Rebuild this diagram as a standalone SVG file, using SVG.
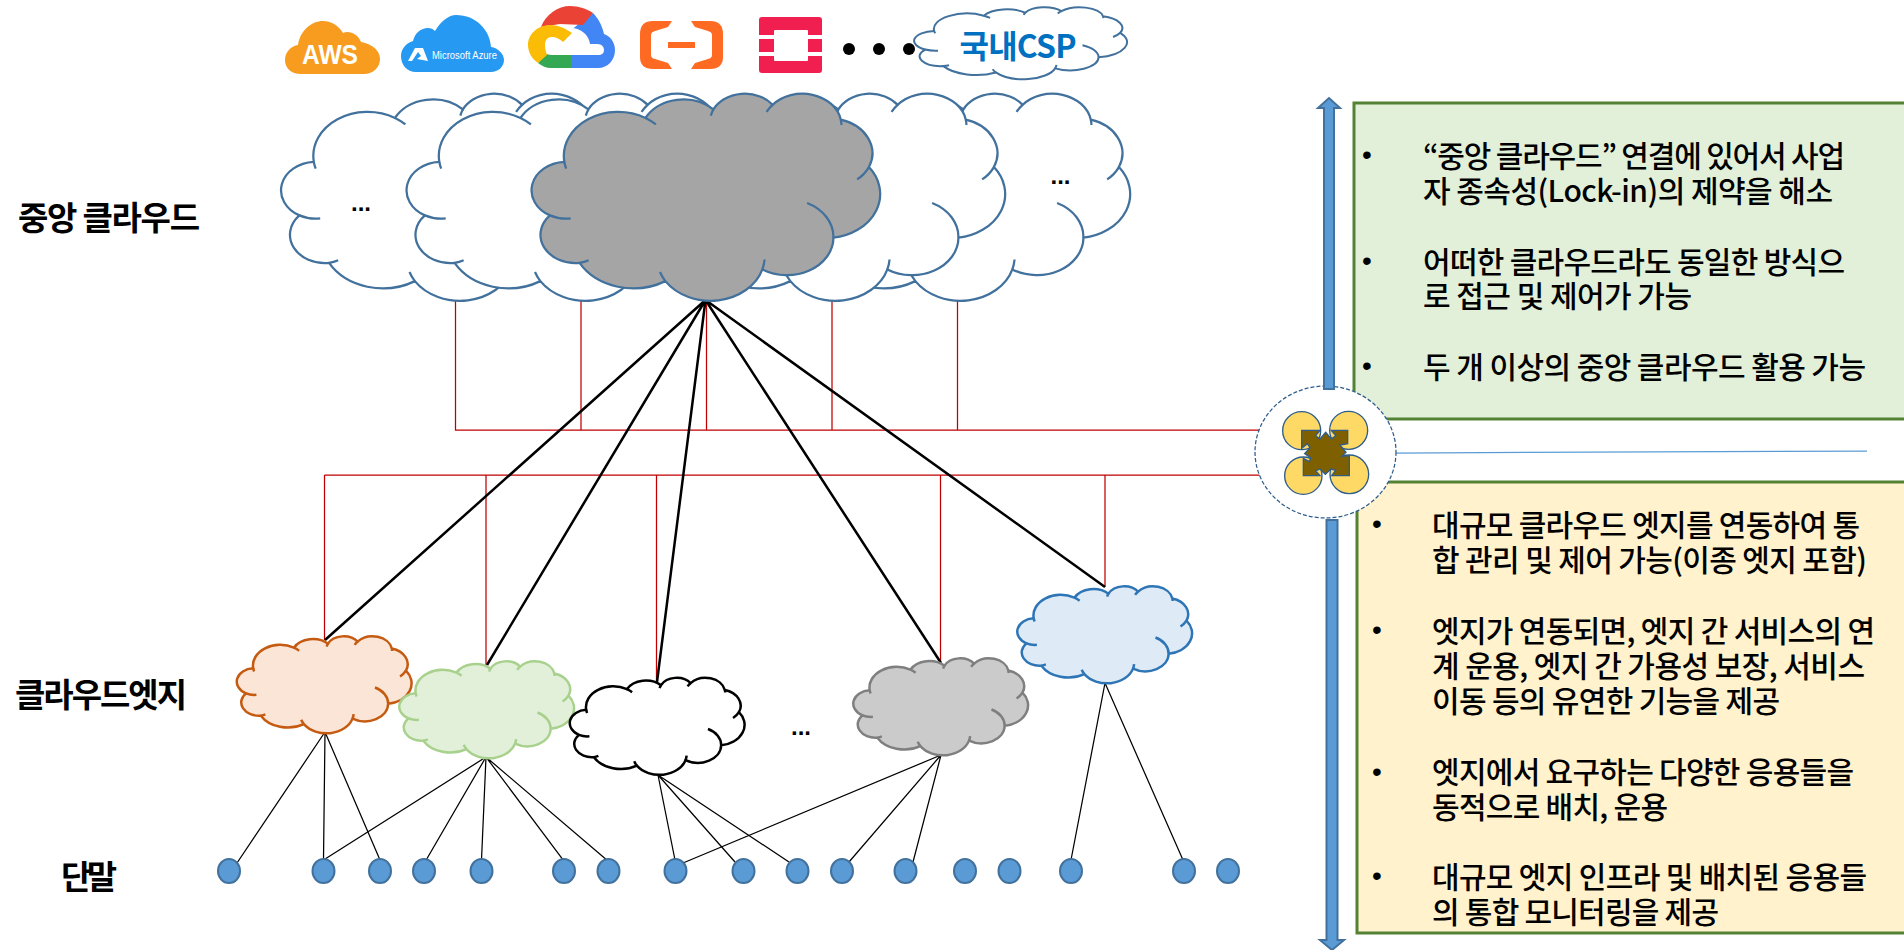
<svg xmlns="http://www.w3.org/2000/svg" xmlns:xlink="http://www.w3.org/1999/xlink" width="1904" height="950" viewBox="0 0 1904 950">
<style>
.cs{vector-effect:non-scaling-stroke;stroke-linejoin:round}
.cm{vector-effect:non-scaling-stroke;fill:none}
.top{fill:#fff;stroke:#41719C;stroke-width:2.25}
.topg{fill:#A5A5A5;stroke:#41719C;stroke-width:2.25}
.red{stroke:#C00000;stroke-width:1.25;fill:none}
.blk{stroke:#000;stroke-width:2.5;fill:none}
.thin{stroke:#000;stroke-width:1.25;fill:none}
.term{fill:#5B9BD5;stroke:#41719C;stroke-width:2}
.t{font-family:"Noto Sans CJK KR","Noto Sans",sans-serif;fill:#000}
.body{font-size:30px;font-weight:500}
.lab{font-size:33px;font-weight:700}
.dots{font-family:"Liberation Sans",sans-serif;font-size:24px;font-weight:700;fill:#000;text-anchor:middle}
.bul{font-family:"Liberation Sans",sans-serif;font-size:28px;fill:#000;text-anchor:middle}
</style>
<defs>
<g id="cloud">
<path class="cs" d="M3900 14370A6753 9190 0 0 1 14005 5202A5333 7267 0 0 1 22457 3432A4365 5945 0 0 1 29834 2482A4857 6595 0 0 1 38319 5577A5333 7273 0 0 1 41819 15462A6775 9220 0 0 1 37404 30204A5785 7867 0 0 1 28555 36814A6752 9215 0 0 1 16478 39262A7720 10543 0 0 1 5800 35465A4360 5918 0 0 1 2108 25543A4345 5945 0 0 1 3900 14370Z"/>
<path class="cm" d="M4693 26177A4345 5945 0 0 1 2108 25543M6928 34899A4360 5918 0 0 1 5800 35465M16478 39262A6752 9215 0 0 1 15811 37348M28827 34751A6752 9215 0 0 1 28555 36814M34129 22954A5785 7867 0 0 1 37404 30204M41819 15462A5333 7273 0 0 1 40353 18033M38319 5577A4857 6595 0 0 1 38400 6690M29078 3952A4857 6595 0 0 1 29834 2482M22141 4720A4365 5945 0 0 1 22457 3432M14005 5202A6753 9190 0 0 1 15300 6543M4127 15789A6753 9190 0 0 1 3900 14370"/>
</g>
</defs>
<rect width="1904" height="950" fill="#fff"/>

<g id="panel-central">
<rect x="1354" y="103" width="560" height="316" fill="#E2F0D9" stroke="#548235" stroke-width="3"/>
<text class="bul" x="1367" y="164">•</text>
<text class="t body" x="1423" y="167" textLength="422" lengthAdjust="spacing">“중앙 클라우드” 연결에 있어서 사업</text>
<text class="t body" x="1423" y="202" textLength="410" lengthAdjust="spacing">자 종속성(Lock-in)의 제약을 해소</text>
<text class="bul" x="1367" y="270">•</text>
<text class="t body" x="1423" y="273" textLength="422" lengthAdjust="spacing">어떠한 클라우드라도 동일한 방식으</text>
<text class="t body" x="1423" y="307" textLength="269" lengthAdjust="spacing">로 접근 및 제어가 가능</text>
<text class="bul" x="1367" y="375">•</text>
<text class="t body" x="1423" y="378" textLength="443" lengthAdjust="spacing">두 개 이상의 중앙 클라우드 활용 가능</text>
</g>
<g id="panel-edge">
<rect x="1357" y="482" width="560" height="451" fill="#FFF2CC" stroke="#548235" stroke-width="3"/>
<text class="bul" x="1377" y="533">•</text>
<text class="t body" x="1432" y="536" textLength="428" lengthAdjust="spacing">대규모 클라우드 엣지를 연동하여 통</text>
<text class="t body" x="1432" y="571" textLength="435" lengthAdjust="spacing">합 관리 및 제어 가능(이종 엣지 포함)</text>
<text class="bul" x="1377" y="639">•</text>
<text class="t body" x="1432" y="642" textLength="443" lengthAdjust="spacing">엣지가 연동되면, 엣지 간 서비스의 연</text>
<text class="t body" x="1432" y="677" textLength="433" lengthAdjust="spacing">계 운용, 엣지 간 가용성 보장, 서비스</text>
<text class="t body" x="1432" y="712" textLength="348" lengthAdjust="spacing">이동 등의 유연한 기능을 제공</text>
<text class="bul" x="1377" y="781">•</text>
<text class="t body" x="1432" y="783" textLength="422" lengthAdjust="spacing">엣지에서 요구하는 다양한 응용들을</text>
<text class="t body" x="1432" y="818" textLength="236" lengthAdjust="spacing">동적으로 배치, 운용</text>
<text class="bul" x="1377" y="885">•</text>
<text class="t body" x="1432" y="888" textLength="435" lengthAdjust="spacing">대규모 엣지 인프라 및 배치된 응용들</text>
<text class="t body" x="1432" y="923" textLength="287" lengthAdjust="spacing">의 통합 모니터링을 제공</text>
</g>

<g id="connectors">
<path class="red" d="M455.5 300V430H1262M581 300V430M706.500 300V430M832 300V430M957.500 300V430"/>
<path class="red" d="M324.500 475H1262M324.500 475V640M486 475V666M656.500 475V683M940.500 475V664M1105 475V587"/>
<path class="blk" d="M705.500 300L325 640M705.500 300L487 665M705.500 300L657 682M705.500 300L941 663M705.500 300L1105 587"/>
<path class="thin" d="M325 732L237 863M325 732L323.500 860M325 732L380 860"/>
<path class="thin" d="M486 757L323.500 860M486 757L425 862M486 757L481.500 860M486 757L564 861M486 757L608 861"/>
<path class="thin" d="M658 775L675 860M658 775L735 862M658 775L789 862"/>
<path class="thin" d="M941 755L683 863M941 755L849 862M941 755L913 862"/>
<path class="thin" d="M1105 683L1071 860M1105 683L1183 860"/>
<path d="M1395 453L1867 451" stroke="#5B9BD5" stroke-width="1.25" fill="none"/>
</g>

<g id="logo-aws">
<path fill="#F89C20" d="M301 74C291 74 285 68 285 60C285 52 291 46 298 45C300 31 311 21 323 21C332 21 339 26 343 33C349 30 358 34 361 42C373 44 380 51 380 59C380 68 372 74 364 74Z"/>
<text x="302" y="64" font-family="Liberation Sans,sans-serif" font-size="27" font-weight="700" fill="#fff" textLength="56" lengthAdjust="spacingAndGlyphs">AWS</text>
</g>
<g id="logo-azure">
<path fill="#2699F2" d="M416 72C407 72 401 65 401 56C401 49 406 43 413 41C415 33 421 28 428 28C431 28 433 29 435 31C441 21 449 15 456 15C476 15 490 30 491 47C498 48 504 54 504 60C504 67 498 72 491 72Z"/>
<path fill="#fff" d="M415 48L423 48L428 61L417 59L421 56L418 52L412 61L408 61Z"/>
<text x="432" y="59" font-family="Liberation Sans,sans-serif" font-size="11" fill="#fff" textLength="65" lengthAdjust="spacingAndGlyphs">Microsoft Azure</text>
</g>
<g id="logo-google">
<path fill="#4285F4" d="M571 68L598 68C608 68 615 60 615 50C615 42 610 36 604 34C602 25 598 18 593 13L571 30Z"/>
<path fill="#EA4335" d="M541 27C546 14 558 6 570 6C579 6 587 9 593 13L583 25L560 24Z"/>
<path fill="#34A853" d="M571 68L551 68C546 68 542 66 538 63L547 53L571 53Z"/>
<path fill="#fff" d="M571 28C581 28 589 35 590 44L597 44C602 44 604 47 604 50C604 53 602 55 598 55L552 55C545 55 541 51 541 47L563 42Z"/>
<path fill="#FBBC05" d="M538 63C532 59 528 52 528 45C528 34 538 25 550 25C558 25 565 28 572 33L563 42C560 39 556 37 552 37C546 37 545 42 545 45C545 49 546 52 547 55Z"/>
</g>
<g id="logo-alibaba" fill="#FF6A22">
<path d="M672 21L653 21Q640 21 640 34L640 57Q640 69 653 69L672 69L668 63L655 59Q651 58 651 55L651 35Q651 32 655 31L668 27Z"/>
<path d="M691 21L710 21Q723 21 723 34L723 57Q723 69 710 69L691 69L695 63L708 59Q712 58 712 55L712 35Q712 32 708 31L695 27Z"/>
<rect x="668" y="42" width="27" height="6"/>
</g>
<g id="logo-openstack">
<rect x="759" y="17" width="63" height="56" rx="3" fill="#F01F4F"/>
<rect x="759" y="35" width="63" height="4" fill="#fff"/>
<rect x="759" y="52" width="63" height="4" fill="#fff"/>
<rect x="774" y="30" width="34" height="31" rx="1" fill="#fff"/>
</g>
<g id="more-dots" fill="#000">
<circle cx="849" cy="49" r="6"/><circle cx="879" cy="49" r="6"/><circle cx="909" cy="49" r="6"/>
</g>
<g id="logo-csp">
<use href="#cloud" transform="translate(915 7) scale(.0049074 .0016667)" fill="#fff" stroke="#41719C" stroke-width="2"/>
<text x="1018" y="58" font-family="Noto Sans CJK KR,sans-serif" font-size="32" font-weight="700" fill="#0070C0" text-anchor="middle" textLength="117" lengthAdjust="spacing">국내CSP</text>
</g>

<g id="cloud-c5"><use href="#cloud" class="top" transform="translate(783 93) scale(.0080324 .0047917)"/></g>
<g id="cloud-c4"><use href="#cloud" class="top" transform="translate(658 93) scale(.0080324 .0047917)"/></g>
<text class="dots" x="1060.500" y="184" id="dots-right">...</text>
<g id="cloud-c1"><use href="#cloud" class="top" transform="translate(282.500 93) scale(.0080324 .0047917)"/></g>
<text class="dots" x="361" y="211" id="dots-left">...</text>
<g id="cloud-c2"><use href="#cloud" class="top" transform="translate(408 93) scale(.0080324 .0047917)"/></g>
<g id="cloud-c3"><use href="#cloud" class="topg" transform="translate(533 93) scale(.0080324 .0047917)"/></g>

<g id="edge-orange"><use href="#cloud" transform="translate(237.500 636) scale(.0040278 .0022454)" fill="#FBE5D6" stroke="#C55A11" stroke-width="2.5"/></g>
<g id="edge-green"><use href="#cloud" transform="translate(400 661) scale(.0040278 .0022454)" fill="#E2F0D9" stroke="#A9D18E" stroke-width="2.5"/></g>
<g id="edge-white"><use href="#cloud" transform="translate(570.500 677.500) scale(.0040278 .0022454)" fill="#fff" stroke="#000" stroke-width="2.5"/></g>
<g id="edge-grey"><use href="#cloud" transform="translate(854 658) scale(.0040278 .0022454)" fill="#CCCBCB" stroke="#7F7F7F" stroke-width="2.5"/></g>
<g id="edge-blue"><use href="#cloud" transform="translate(1018 586) scale(.0040278 .0022454)" fill="#DEEBF7" stroke="#2E75B6" stroke-width="2.5"/></g>
<text class="dots" x="801" y="735" id="dots-edge">...</text>

<g id="terminals">
<ellipse class="term" cx="229" cy="871" rx="11" ry="12"/>
<ellipse class="term" cx="323.500" cy="871" rx="11" ry="12"/>
<ellipse class="term" cx="380" cy="871" rx="11" ry="12"/>
<ellipse class="term" cx="424" cy="871" rx="11" ry="12"/>
<ellipse class="term" cx="481.500" cy="871" rx="11" ry="12"/>
<ellipse class="term" cx="564" cy="871" rx="11" ry="12"/>
<ellipse class="term" cx="608.500" cy="871" rx="11" ry="12"/>
<ellipse class="term" cx="675.500" cy="871" rx="11" ry="12"/>
<ellipse class="term" cx="743.500" cy="871" rx="11" ry="12"/>
<ellipse class="term" cx="797.500" cy="871" rx="11" ry="12"/>
<ellipse class="term" cx="842" cy="871" rx="11" ry="12"/>
<ellipse class="term" cx="905.500" cy="871" rx="11" ry="12"/>
<ellipse class="term" cx="965" cy="871" rx="11" ry="12"/>
<ellipse class="term" cx="1009.500" cy="871" rx="11" ry="12"/>
<ellipse class="term" cx="1071" cy="871" rx="11" ry="12"/>
<ellipse class="term" cx="1184" cy="871" rx="11" ry="12"/>
<ellipse class="term" cx="1228" cy="871" rx="11" ry="12"/>
</g>

<text class="t lab" x="18" y="230" textLength="182" lengthAdjust="spacing">중앙 클라우드</text>
<text class="t lab" x="15" y="707" textLength="172" lengthAdjust="spacing">클라우드엣지</text>
<text class="t lab" x="61" y="889" textLength="56" lengthAdjust="spacing">단말</text>

<g id="hub">
<ellipse cx="1325.500" cy="452" rx="70.500" ry="66" fill="#fff" stroke="#2F5D8A" stroke-width="1.25" stroke-dasharray="4 2"/>
<g transform="translate(1270 405) scale(.33333)" stroke="#2F5D8A" stroke-width="4">
<circle cx="95" cy="77" r="57" fill="#FFD966"/>
<circle cx="236" cy="76" r="57" fill="#FFD966"/>
<circle cx="100" cy="212" r="56" fill="#FFD966"/>
<circle cx="238" cy="208" r="58" fill="#FFD966"/>
<path fill="#7F6000" d="M95 76L150 76L137 92L150 102L167 82L184 102L197 92L184 76L233 76L233 116L210 120L218 130L228 142L216 154L238 152L238 212L185 212L197 196L183 192L166 208L150 192L137 198L150 212L100 212L100 160L118 170L122 158L104 146L120 128L112 116L95 130Z"/>
</g>
</g>
<g id="arrow-up"><path fill="#5B9BD5" stroke="#41719C" stroke-width="2" d="M1324 389V108H1318L1329 98L1340 108H1334V389Z"/></g>
<g id="arrow-down"><path fill="#5B9BD5" stroke="#41719C" stroke-width="2" d="M1326.500 520V940H1320L1332 950L1344 940H1337.500V520Z"/></g>
</svg>
